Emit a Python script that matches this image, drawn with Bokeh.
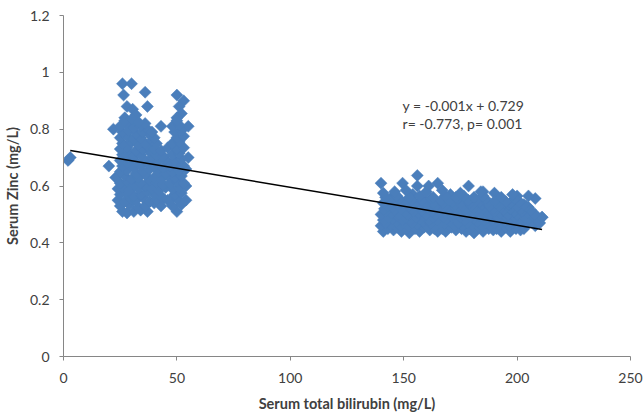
from bokeh.plotting import figure
from bokeh.models import Range1d, FixedTicker, NumeralTickFormatter, Label
from bokeh.embed import file_html
from bokeh.resources import INLINE
import math

# ---------------- data ----------------
# group with low serum total bilirubin
bili_low = [
    2, 3,
    26, 30, 26.5, 36, 28, 30.5, 37, 32, 27, 50, 53, 51, 52, 50, 55, 22, 43, 20,
    26, 28, 31, 34, 37,
    25, 29, 33, 36, 40, 43,
    24, 27, 30, 32, 35, 38, 41, 44, 46,
    25, 28, 31, 34, 37, 40, 43,
    24, 26, 29, 33, 36, 39, 42, 45,
    25, 28, 31, 34, 38, 41, 44,
    23, 27, 30, 33, 36, 40, 43, 46,
    25, 28, 32, 35, 38, 42, 45,
    26, 29, 31, 34, 37, 40, 44,
    25, 28, 32, 36, 39, 42, 46,
    26, 29, 31, 34, 38, 41, 44,
    25, 28, 32, 35, 37, 40, 43, 46,
    26, 30, 33, 36, 39, 41,
    25, 28, 31, 34, 38, 40,
    26, 29, 32, 35, 37, 39,
    25, 28, 31, 34, 36,
    27, 30, 33,
    50, 48, 52, 47, 50, 54, 49, 52, 48, 51, 54, 47, 50, 53, 49, 52, 48, 51, 54,
    47, 50, 53, 49, 52, 55, 48, 51, 50, 53, 48, 51, 50, 53, 49, 52, 48, 51, 50,
]
zinc_low = [
    0.69, 0.70,
    0.96, 0.96, 0.92, 0.93, 0.88, 0.87, 0.88, 0.85, 0.84, 0.92, 0.90, 0.88, 0.855, 0.84, 0.81, 0.80, 0.81, 0.67,
    0.51, 0.505, 0.51, 0.515, 0.51,
    0.53, 0.535, 0.525, 0.53, 0.54, 0.53,
    0.55, 0.545, 0.555, 0.55, 0.56, 0.545, 0.55, 0.555, 0.55,
    0.57, 0.575, 0.565, 0.57, 0.58, 0.57, 0.565,
    0.59, 0.595, 0.585, 0.59, 0.60, 0.59, 0.585, 0.595,
    0.61, 0.615, 0.605, 0.61, 0.62, 0.61, 0.605,
    0.63, 0.635, 0.625, 0.63, 0.64, 0.63, 0.625, 0.635,
    0.65, 0.655, 0.645, 0.65, 0.66, 0.65, 0.645,
    0.67, 0.675, 0.665, 0.67, 0.68, 0.67, 0.665,
    0.69, 0.695, 0.685, 0.69, 0.70, 0.69, 0.685,
    0.71, 0.715, 0.705, 0.71, 0.72, 0.71, 0.705,
    0.73, 0.735, 0.725, 0.73, 0.74, 0.73, 0.725, 0.735,
    0.75, 0.755, 0.745, 0.75, 0.76, 0.75,
    0.77, 0.775, 0.765, 0.77, 0.78, 0.77,
    0.79, 0.795, 0.785, 0.79, 0.80, 0.79,
    0.81, 0.815, 0.805, 0.81, 0.82,
    0.83, 0.835, 0.825,
    0.51, 0.53, 0.535, 0.55, 0.555, 0.55, 0.57, 0.575, 0.59, 0.595, 0.60, 0.61, 0.615, 0.61, 0.63, 0.635, 0.65, 0.655, 0.66,
    0.67, 0.675, 0.67, 0.69, 0.695, 0.70, 0.71, 0.715, 0.73, 0.735, 0.75, 0.755, 0.77, 0.775, 0.79, 0.795, 0.81, 0.815, 0.83,
]

# group with high serum total bilirubin
bili_high = [
    156, 149.5, 140, 156, 161, 165, 178.6, 145.5, 154, 170.6, 190, 200, 185, 208, 211,
    141, 145.5, 149, 152.5, 157, 161.5, 165, 168.5, 173, 177.5, 181, 185, 189.5, 193, 197, 201.5,
    143, 147, 151.5, 155, 159, 163.5, 167, 171, 175.5, 179, 183, 187.5, 191, 195, 199.5, 203,
    140, 144, 148.5, 152, 156, 160.5, 164, 168, 172.5, 176, 180, 184.5, 188, 192, 196.5, 200, 204, 208,
    142, 146.5, 150, 154, 158.5, 162, 166, 170.5, 174, 178, 182.5, 186, 190, 194.5, 198, 202, 206.5, 210,
    141, 145, 149.5, 153, 157, 161.5, 165, 169, 173.5, 177, 181, 185.5, 189, 193, 197.5, 201, 205, 209,
    143.5, 147, 151, 155.5, 159, 163, 167.5, 171, 175, 179.5, 183, 187, 191.5, 195, 199, 203.5, 207, 211,
    140, 144.5, 148, 152, 156.5, 160, 164, 168.5, 172, 176, 180.5, 184, 188, 192.5, 196, 200, 204.5, 208,
    142, 146, 150.5, 154, 158, 162.5, 166, 170, 174.5, 178, 182, 186.5, 190, 194, 198.5, 202, 206,
    141.5, 145, 149, 153.5, 157, 161, 165.5, 169, 173, 177.5, 181, 185, 189.5, 193, 197, 201.5, 205,
    143, 147.5, 152, 156, 160.5, 164, 168, 172.5, 176, 180, 184.5, 188, 192, 196.5, 200, 204,
    141, 145.5, 150, 155, 159.5, 163, 167, 171.5, 175, 179, 183.5, 187, 191, 197, 203,
    144, 148, 153.5, 158, 162, 166.5, 170, 174, 178.5, 182, 186, 190.5, 195, 201,
    142, 147, 152.5, 157, 163, 168.5, 173, 176.5, 181, 185, 193, 199,
    141, 146, 151, 160, 167, 175, 184, 198, 205,
]
zinc_high = [
    0.637, 0.61, 0.61, 0.60, 0.60, 0.61, 0.60, 0.567, 0.57, 0.57, 0.575, 0.565, 0.58, 0.556, 0.49,
    0.44, 0.445, 0.44, 0.435, 0.44, 0.445, 0.44, 0.44, 0.445, 0.44, 0.435, 0.44, 0.445, 0.44, 0.44, 0.445,
    0.45, 0.455, 0.45, 0.45, 0.455, 0.45, 0.45, 0.455, 0.45, 0.45, 0.455, 0.45, 0.45, 0.455, 0.45, 0.45,
    0.46, 0.465, 0.46, 0.46, 0.465, 0.46, 0.46, 0.465, 0.46, 0.46, 0.465, 0.46, 0.46, 0.465, 0.46, 0.46, 0.465, 0.46,
    0.47, 0.475, 0.47, 0.47, 0.475, 0.47, 0.47, 0.475, 0.47, 0.47, 0.475, 0.47, 0.47, 0.475, 0.47, 0.47, 0.475, 0.47,
    0.48, 0.485, 0.48, 0.48, 0.485, 0.48, 0.48, 0.485, 0.48, 0.48, 0.485, 0.48, 0.48, 0.485, 0.48, 0.48, 0.485, 0.48,
    0.49, 0.495, 0.49, 0.49, 0.495, 0.49, 0.49, 0.495, 0.49, 0.49, 0.495, 0.49, 0.49, 0.495, 0.49, 0.49, 0.495, 0.49,
    0.50, 0.505, 0.50, 0.50, 0.505, 0.50, 0.50, 0.505, 0.50, 0.50, 0.505, 0.50, 0.50, 0.505, 0.50, 0.50, 0.505, 0.50,
    0.51, 0.515, 0.51, 0.51, 0.515, 0.51, 0.51, 0.515, 0.51, 0.51, 0.515, 0.51, 0.51, 0.515, 0.51, 0.51, 0.515,
    0.52, 0.525, 0.52, 0.52, 0.525, 0.52, 0.52, 0.525, 0.52, 0.52, 0.525, 0.52, 0.52, 0.525, 0.52, 0.52, 0.525,
    0.53, 0.535, 0.53, 0.53, 0.535, 0.53, 0.53, 0.535, 0.53, 0.53, 0.535, 0.53, 0.53, 0.535, 0.53, 0.53,
    0.54, 0.545, 0.54, 0.54, 0.545, 0.54, 0.54, 0.545, 0.54, 0.54, 0.545, 0.54, 0.54, 0.54, 0.535,
    0.55, 0.555, 0.55, 0.55, 0.555, 0.55, 0.55, 0.555, 0.55, 0.55, 0.555, 0.55, 0.545, 0.545,
    0.56, 0.565, 0.56, 0.565, 0.56, 0.565, 0.56, 0.565, 0.56, 0.565, 0.56, 0.555,
    0.575, 0.58, 0.585, 0.58, 0.585, 0.575, 0.58, 0.57, 0.565,
]

# fitted trend line end points
trend_bili = [3, 211]
trend_zinc = [0.725, 0.447]

x_ticks = [0, 50, 100, 150, 200, 250]
y_ticks = [0, 0.2, 0.4, 0.6, 0.8, 1.0, 1.2]

equation_text = "y = -0.001x + 0.729"
stats_text = "r= -0.773, p= 0.001"

FONT = "Lato"
AXIS_GRAY = "#868686"
TEXT_COLOR = "#404040"
BLUE = "#4a7ebb"

p = figure(width=643, height=416, output_backend="svg", toolbar_location=None,
           x_range=Range1d(0, 250), y_range=Range1d(0, 1.2),
           min_border_left=63, min_border_right=13, min_border_top=15, min_border_bottom=60)
p.outline_line_color = None
p.xgrid.visible = False
p.ygrid.visible = False
p.background_fill_color = "white"
p.border_fill_color = "white"

p.scatter(bili_low + bili_high, zinc_low + zinc_high, marker="square", size=8.5,
          angle=math.pi / 4, fill_color=BLUE, line_color=BLUE, line_width=0.5)
p.line(trend_bili, trend_zinc, line_color="black", line_width=1.5)

for ax in (p.xaxis[0], p.yaxis[0]):
    ax.axis_line_color = AXIS_GRAY
    ax.major_tick_line_color = AXIS_GRAY
    ax.minor_tick_line_color = None
    ax.major_tick_out = 4
    ax.major_tick_in = 0
    ax.major_label_text_font = FONT
    ax.major_label_text_font_size = "14px"
    ax.major_label_text_color = TEXT_COLOR
    ax.axis_label_text_font = FONT
    ax.axis_label_text_font_size = "14.5px"
    ax.axis_label_text_font_style = "bold"
    ax.axis_label_text_color = TEXT_COLOR

p.xaxis.ticker = FixedTicker(ticks=x_ticks)
p.yaxis.ticker = FixedTicker(ticks=y_ticks)
p.yaxis.formatter = NumeralTickFormatter(format="0.[0]")
p.xaxis.axis_label = "Serum total bilirubin (mg/L)"
p.yaxis.axis_label = "Serum Zinc (mg/L)"
p.xaxis.major_label_standoff = 12
p.yaxis.major_label_standoff = 10
p.xaxis.axis_label_standoff = 9
p.yaxis.axis_label_standoff = 6

p.add_layout(Label(x=149.5, y=0.884, text=equation_text, text_font=FONT,
                   text_font_size="14px", text_color=TEXT_COLOR,
                   text_baseline="middle", text_align="left"))
p.add_layout(Label(x=149.5, y=0.82, text=stats_text, text_font=FONT,
                   text_font_size="14px", text_color=TEXT_COLOR,
                   text_baseline="middle", text_align="left"))

open("out.html", "w").write(file_html(p, INLINE))
